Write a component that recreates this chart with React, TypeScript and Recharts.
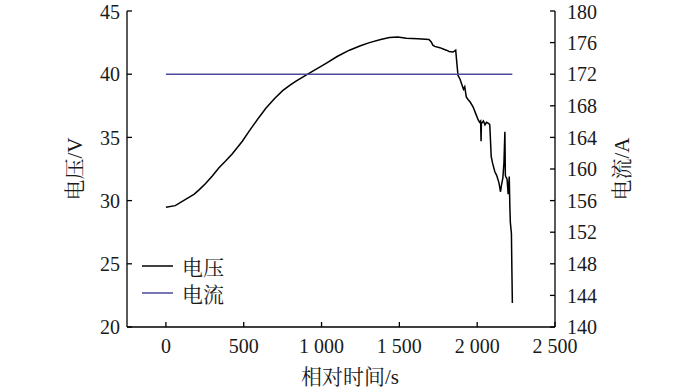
import React from 'react';
import { ComposedChart, Line, XAxis, YAxis, Legend, Label } from 'recharts';

const timeTicks = [0, 500, 1000, 1500, 2000, 2500];
const voltageTicks = [20, 25, 30, 35, 40, 45];
const currentTicks = [140, 144, 148, 152, 156, 160, 164, 168, 172, 176, 180];

const voltageTime = [
  0, 60, 137, 180, 213, 255, 298, 341, 385, 427, 491, 535, 599, 642, 700, 750, 800,
  836, 911, 1029, 1100, 1179, 1250, 1308, 1380, 1437, 1490, 1544, 1620, 1690, 1705,
  1715, 1727, 1760, 1790, 1802, 1820, 1845, 1862, 1870, 1877, 1890, 1898, 1912, 1920,
  1930, 1941, 1955, 1974, 1990, 2006, 2015, 2022, 2025, 2027, 2040, 2050, 2060, 2075,
  2081, 2090, 2100, 2113, 2125, 2140, 2150, 2156, 2165, 2172, 2178, 2181, 2184,
  2192, 2199, 2206, 2210, 2213, 2220, 2223, 2226,
];
const voltageValues = [
  29.47, 29.6, 30.18, 30.5, 30.85, 31.35, 31.95, 32.6, 33.15, 33.7, 34.7, 35.5, 36.6,
  37.3, 38.1, 38.7, 39.15, 39.45, 40.0, 40.86, 41.4, 41.9, 42.25, 42.5, 42.75, 42.9,
  42.95, 42.85, 42.8, 42.75, 42.55, 42.3, 42.2, 42.1, 41.95, 41.9, 41.8, 41.75, 41.9,
  40.8, 39.9, 39.6, 39.3, 38.8, 39.0, 38.2, 38.0, 37.8, 37.4, 36.9, 36.4, 36.2, 36.3,
  34.7, 36.1, 36.3, 36.0, 36.2, 36.1, 36.0, 33.5, 32.9, 32.3, 32.0, 31.4, 30.7, 31.2,
  31.8, 33.0, 35.45, 32.0, 31.9, 31.7, 30.5, 31.9, 29.5, 28.3, 27.4, 24.5, 21.9,
];

const currentTime = [0, 600, 1200, 1800, 2226];
const currentValues = [172.0, 172.0, 172.0, 172.0, 172.0];

const voltageData = voltageTime.map((t, i) => ({ t, v: voltageValues[i] }));
const currentData = currentTime.map((t, i) => ({ t, a: currentValues[i] }));

const FONT = "'Liberation Serif', 'Times New Roman', 'Noto Serif CJK SC', 'Noto Sans CJK SC', serif";
const TEXT = '#1a1a1a';

const fmtTime = (v: number) =>
  v >= 1000 ? `${Math.floor(v / 1000)} ${String(v % 1000).padStart(3, '0')}` : String(v);

const SideLabel = ({ viewBox, value, dx }: any) => {
  const cx = viewBox.x + dx;
  const cy = viewBox.y + viewBox.height / 2;
  return (
    <text
      x={cx}
      y={cy}
      transform={`rotate(-90 ${cx} ${cy})`}
      textAnchor="middle"
      dominantBaseline="central"
      fontFamily={FONT}
      fontSize={21}
      fill={TEXT}
    >
      {value}
    </text>
  );
};

const BottomLabel = ({ viewBox, value }: any) => (
  <text
    x={viewBox.x + viewBox.width / 2 + 9}
    y={viewBox.y + 50}
    textAnchor="middle"
    dominantBaseline="central"
    fontFamily={FONT}
    fontSize={21}
    fill={TEXT}
  >
    {value}
  </text>
);

const LegendContent = ({ payload }: any) => (
  <div style={{ fontFamily: FONT, fontSize: 21, color: TEXT }}>
    {(payload || []).map((p: any) => (
      <div key={p.value} style={{ display: 'flex', alignItems: 'center', height: 27 }}>
        <svg width={36} height={4} style={{ marginRight: 4 }}>
          <line x1={0} y1={2} x2={31} y2={2} stroke={p.color} strokeWidth={1.5} />
        </svg>
        <span>{p.value}</span>
      </div>
    ))}
  </div>
);

export default function App() {
  const tick = { fontFamily: FONT, fontSize: 20, fill: TEXT };
  return (
    <div style={{ position: 'absolute', left: 0, top: 0, background: '#fff' }}>
      <ComposedChart
        width={700}
        height={388}
        margin={{ top: 11, right: 85, left: 67, bottom: 21 }}
      >
        <XAxis
          dataKey="t"
          type="number"
          domain={[-250, 2500]}
          ticks={timeTicks}
          tickFormatter={fmtTime}
          allowDataOverflow
          height={40}
          tick={tick}
          tickSize={-5}
          tickMargin={17}
          stroke="#000"
          strokeWidth={1.3}
        >
          <Label value="相对时间/s" content={<BottomLabel />} />
        </XAxis>
        <YAxis
          yAxisId="v"
          orientation="left"
          domain={[20, 45]}
          ticks={voltageTicks}
          width={60}
          tick={tick}
          tickSize={-5}
          tickMargin={12}
          stroke="#000"
          strokeWidth={1.3}
          allowDataOverflow
        >
          <Label value="电压/V" content={<SideLabel dx={8} />} />
        </YAxis>
        <YAxis
          yAxisId="a"
          orientation="right"
          domain={[140, 180]}
          ticks={currentTicks}
          width={60}
          tick={tick}
          tickSize={-5}
          tickMargin={17}
          stroke="#000"
          strokeWidth={1.3}
          allowDataOverflow
        >
          <Label value="电流/A" content={<SideLabel dx={67} />} />
        </YAxis>
        <Legend
          layout="vertical"
          align="center"
          verticalAlign="middle"
          content={<LegendContent />}
          wrapperStyle={{ position: 'absolute', left: 142, top: 252, width: 120 }}
        />
        <Line
          yAxisId="v"
          data={voltageData}
          dataKey="v"
          name="电压"
          type="linear"
          stroke="#000"
          strokeWidth={1.5}
          dot={false}
          isAnimationActive={false}
        />
        <Line
          yAxisId="a"
          data={currentData}
          dataKey="a"
          name="电流"
          type="linear"
          stroke="#4a4a9e"
          strokeWidth={1.5}
          dot={false}
          isAnimationActive={false}
        />
      </ComposedChart>
    </div>
  );
}
